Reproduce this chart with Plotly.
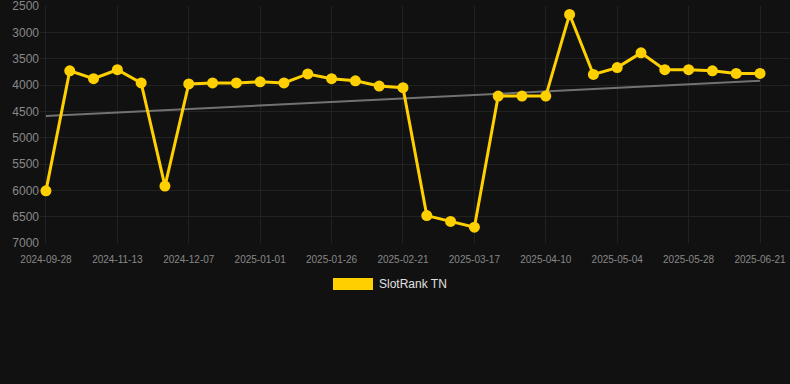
import plotly.graph_objects as go

dates = [
    "2024-09-28", "2024-10-14", "2024-10-29", "2024-11-13", "2024-11-21", "2024-11-29",
    "2024-12-07", "2024-12-15", "2024-12-23", "2025-01-01", "2025-01-09", "2025-01-17",
    "2025-01-26", "2025-02-03", "2025-02-12", "2025-02-21", "2025-03-01", "2025-03-09",
    "2025-03-17", "2025-03-25", "2025-04-02", "2025-04-10", "2025-04-18", "2025-04-26",
    "2025-05-04", "2025-05-12", "2025-05-20", "2025-05-28", "2025-06-05", "2025-06-13",
    "2025-06-21",
]
rank = [
    6010, 3730, 3880, 3710, 3960, 5920,
    3980, 3960, 3960, 3940, 3960, 3790,
    3880, 3920, 4020, 4050, 6480, 6590,
    6700, 4210, 4210, 4210, 2660, 3800,
    3670, 3390, 3710, 3710, 3730, 3780,
    3780,
]
trend_x = [dates[0], dates[-1]]
trend_y = [4590, 3920]
tick_labels = dates[::3]
y_ticks = [2500, 3000, 3500, 4000, 4500, 5000, 5500, 6000, 6500, 7000]

GOLD = "#FFD000"
BG = "#111111"
GRID = "#222222"
FONT = "Arial, Liberation Sans, sans-serif"

fig = go.Figure()
fig.add_trace(go.Scatter(
    x=trend_x, y=trend_y, mode="lines",
    line=dict(color="#727272", width=2), showlegend=False, hoverinfo="skip",
))
fig.add_trace(go.Scatter(
    x=dates, y=rank, mode="lines+markers", name="SlotRank TN",
    line=dict(color=GOLD, width=3),
    marker=dict(color=GOLD, size=11),
    showlegend=False,
))

fig.update_layout(
    width=790, height=384,
    margin=dict(l=40, r=0, t=6, b=141),
    paper_bgcolor=BG, plot_bgcolor=BG,
    font=dict(family=FONT, color="#888888"),
    showlegend=False,
)
fig.update_xaxes(
    type="category", categoryorder="array", categoryarray=dates,
    range=[-0.25, 31.26],
    tickmode="array", tickvals=tick_labels, ticktext=tick_labels,
    tickfont=dict(size=10, color="#888888"),
    ticks="outside", ticklen=7, tickcolor="rgba(0,0,0,0)",
    showgrid=True, gridcolor=GRID, gridwidth=1,
    zeroline=False, showline=False,
)
fig.update_yaxes(
    range=[7000, 2500], autorange=False,
    tickmode="array", tickvals=y_ticks, ticktext=[str(v) for v in y_ticks],
    tickfont=dict(size=12, color="#888888"),
    ticklabeloverflow="allow",
    showgrid=True, gridcolor=GRID, gridwidth=1,
    zeroline=False, showline=False,
)

# legend drawn as swatch + label
fig.add_shape(type="rect", xref="paper", yref="paper",
              x0=(333 - 40) / 750, x1=(373 - 40) / 750,
              y0=(384 - 141 - 290) / 237, y1=(384 - 141 - 278) / 237,
              fillcolor=GOLD, line=dict(width=0))
fig.add_annotation(xref="paper", yref="paper",
                   x=(377 - 40) / 750, y=(384 - 141 - 284) / 237,
                   xanchor="left", yanchor="middle", showarrow=False,
                   text="SlotRank TN", font=dict(size=12, color="#e0e0e0", family=FONT))

fig.write_html("out.html")
